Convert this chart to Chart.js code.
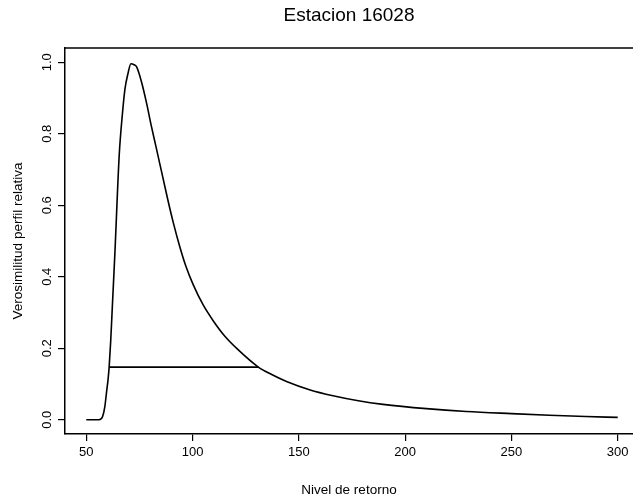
<!DOCTYPE html>
<html lang="es">
<head>
  <meta charset="UTF-8" />
  <title>Estacion 16028</title>
  <script src="https://cdn.jsdelivr.net/npm/chart.js"></script>
  <style>
    html, body { margin: 0; padding: 0; background: #fff; }
    #wrap { width: 633px; height: 498px; }
  </style>
</head>
<body>
  <div id="wrap"><canvas id="grafico" width="633" height="498"></canvas></div>

  <script>
    // datos
    const nivel = [50, 56, 57.7, 58.7, 59.6, 60.3, 60.8, 61.5, 62.3, 63.5, 65.5, 67, 68.2, 69.6, 71, 72.5, 73.7,
                   76, 78.4, 80.5, 82.8, 84.6, 86.5, 88.5, 91, 94, 97, 100.3, 105, 109.7, 115, 121.4, 130.8,
                   137, 144.2, 155, 166.1, 178, 189.6, 210, 228.8, 250, 267.9, 285, 300];
    const verosim = [0, 0, 0.009, 0.035, 0.08, 0.115, 0.15, 0.22, 0.32, 0.47, 0.74, 0.855, 0.925, 0.968, 0.996,
                     0.993, 0.987, 0.945, 0.885, 0.825, 0.764, 0.716, 0.665, 0.612, 0.55, 0.484, 0.427, 0.378,
                     0.321, 0.277, 0.235, 0.196, 0.148, 0.127, 0.107, 0.084, 0.067, 0.053, 0.043, 0.031, 0.023,
                     0.017, 0.0125, 0.009, 0.0065];
    // intervalo de confianza (linea horizontal)
    const intervaloX = [60.8, 131];
    const intervaloY = [0.147, 0.147];

    const xTicks = [50, 100, 150, 200, 250, 300];
    const yTicks = [0, 0.2, 0.4, 0.6, 0.8, 1.0];

    Chart.defaults.font.family = '"Liberation Sans", Arial, Helvetica, sans-serif';
    Chart.defaults.color = '#000';

    // etiquetas del eje y giradas (como en R) y linea superior del marco
    const extras = {
      id: 'extras',
      afterDraw(chart) {
        const { ctx, chartArea, scales } = chart;
        ctx.save();
        ctx.strokeStyle = '#000';
        ctx.lineWidth = 1.5;
        ctx.beginPath();
        ctx.moveTo(chartArea.left, chartArea.top);
        ctx.lineTo(chartArea.right, chartArea.top);
        ctx.stroke();

        ctx.fillStyle = '#000';
        ctx.font = '13px "Liberation Sans", Arial, sans-serif';
        ctx.textAlign = 'center';
        ctx.textBaseline = 'middle';
        yTicks.forEach(v => {
          const y = scales.y.getPixelForValue(v);
          ctx.save();
          ctx.translate(47, y);
          ctx.rotate(-Math.PI / 2);
          ctx.fillText(v.toFixed(1), 0, 0);
          ctx.restore();
        });
        ctx.restore();
      }
    };

    const ctx = document.getElementById('grafico').getContext('2d');
    new Chart(ctx, {
      type: 'line',
      data: {
        datasets: [
          {
            data: nivel.map((x, i) => ({ x: x, y: verosim[i] })),
            borderColor: '#000',
            borderWidth: 1.6,
            pointRadius: 0,
            fill: false,
            cubicInterpolationMode: 'monotone'
          },
          {
            data: intervaloX.map((x, i) => ({ x: x, y: intervaloY[i] })),
            borderColor: '#000',
            borderWidth: 1.6,
            pointRadius: 0,
            fill: false
          }
        ]
      },
      options: {
        responsive: false,
        animation: false,
        layout: { padding: 0 },
        plugins: {
          legend: { display: false },
          tooltip: { enabled: false },
          title: {
            display: true,
            text: 'Estacion 16028',
            fullSize: false,
            font: { size: 19, weight: 'normal' },
            padding: { top: 4, bottom: 21.2 }
          }
        },
        scales: {
          x: {
            type: 'linear',
            min: 40,
            max: 307.2,
            afterBuildTicks: s => { s.ticks = xTicks.map(v => ({ value: v })); },
            afterFit: s => { s.height = 64; },
            ticks: { font: { size: 13 }, padding: 4, maxRotation: 0 },
            grid: { drawOnChartArea: false, drawTicks: true, tickLength: 7, color: '#000', lineWidth: 1.2 },
            border: { display: true, color: '#000', width: 1.5 },
            title: {
              display: true,
              text: 'Nivel de retorno',
              font: { size: 13.5 },
              padding: { top: 5, bottom: 0 }
            }
          },
          y: {
            type: 'linear',
            min: -0.04,
            max: 1.04,
            afterBuildTicks: s => { s.ticks = yTicks.map(v => ({ value: v })); },
            afterFit: s => { s.width = 65; },
            ticks: { display: false },
            grid: { drawOnChartArea: false, drawTicks: true, tickLength: 7, color: '#000', lineWidth: 1.2 },
            border: { display: true, color: '#000', width: 1.5 },
            title: {
              display: true,
              text: 'Verosimilitud perfil relativa',
              font: { size: 13.5 },
              padding: { top: 10, bottom: 0 }
            }
          }
        }
      },
      plugins: [extras]
    });
  </script>
</body>
</html>
